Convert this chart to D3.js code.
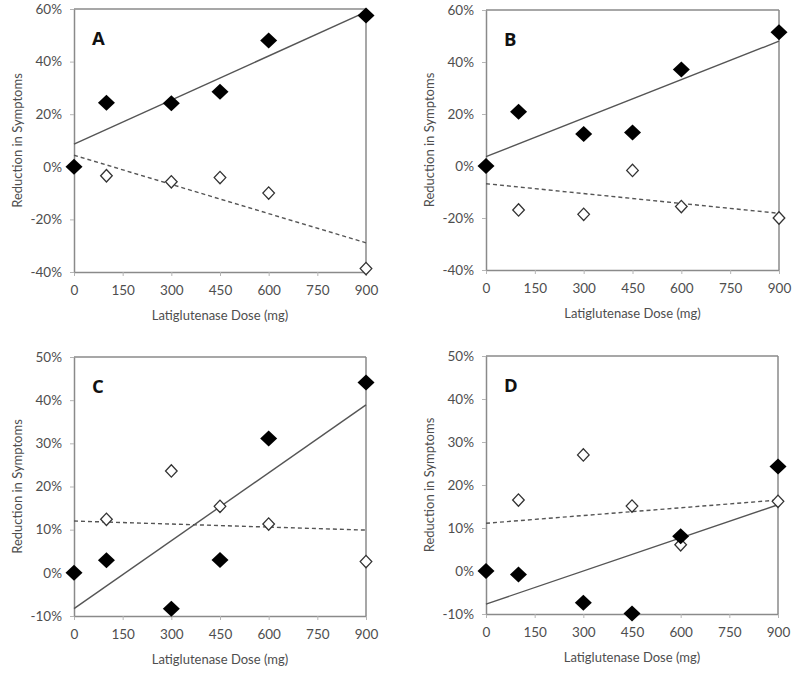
<!DOCTYPE html>
<html>
<head>
<meta charset="utf-8">
<script src="https://cdn.jsdelivr.net/npm/d3@7"></script>
<style>
  body { margin: 0; background: #fff; }
  svg { display: block; }
</style>
</head>
<body>
<svg id="chart" width="800" height="676"></svg>
<script>
// ---- data ----
const xTicks = [0, 150, 300, 450, 600, 750, 900];
const yTicksAB = [-40, -20, 0, 20, 40, 60];
const yTicksCD = [-10, 0, 10, 20, 30, 40, 50];
const filledDoses = [0, 100, 300, 450, 600, 900];
const openDoses = [100, 300, 450, 600, 900];
const trendDoses = [0, 900];

const filledA = [0, 24.4, 24.2, 28.5, 48.0, 57.5];
const openA = [-3.4, -5.7, -4.1, -10.0, -38.7];
const solidA = [8.6, 58.9];
const dashedA = [4.4, -28.9];

const filledB = [0, 20.9, 12.3, 12.9, 37.1, 51.4];
const openB = [-16.9, -18.6, -1.7, -15.6, -20.0];
const solidB = [3.6, 48.0];
const dashedB = [-6.8, -18.2];

const filledC = [0, 2.9, -8.3, 3.0, 31.1, 44.1];
const openC = [12.4, 23.6, 15.4, 11.3, 2.6];
const solidC = [-8.3, 38.9];
const dashedC = [12.0, 9.9];

const filledD = [0, -0.8, -7.4, -9.9, 8.1, 24.3];
const openD = [16.5, 27.0, 15.1, 6.1, 16.2];
const solidD = [-7.7, 15.4];
const dashedD = [11.1, 16.5];

const panelLabels = ["A", "B", "C", "D"];
const xTitle = "Latiglutenase Dose (mg)";
const yTitle = "Reduction in Symptoms";

// ---- layout ----
const panels = [
  { label: panelLabels[0], filled: filledA, open: openA, solid: solidA, dashed: dashedA, yTicks: yTicksAB, box: { l: 74, r: 366, t: 9, b: 272 } },
  { label: panelLabels[1], filled: filledB, open: openB, solid: solidB, dashed: dashedB, yTicks: yTicksAB, box: { l: 486, r: 779, t: 10, b: 270 } },
  { label: panelLabels[2], filled: filledC, open: openC, solid: solidC, dashed: dashedC, yTicks: yTicksCD, box: { l: 74, r: 366, t: 357, b: 616 } },
  { label: panelLabels[3], filled: filledD, open: openD, solid: solidD, dashed: dashedD, yTicks: yTicksCD, box: { l: 486, r: 778, t: 356, b: 614 } }
];

const svg = d3.select("#chart");
const font = "Lato, 'Open Sans', 'Liberation Sans', sans-serif";
const frameColor = "#8a8a8a";
const textColor = "#4e4e4e";

panels.forEach(p => {
  const b = p.box;
  const x = d3.scaleLinear().domain([0, 900]).range([b.l, b.r]);
  const y = d3.scaleLinear().domain([p.yTicks[0], p.yTicks[p.yTicks.length - 1]]).range([b.b, b.t]);
  const g = svg.append("g");

  // frame (top/right)
  g.append("line").attr("x1", b.l).attr("x2", b.r).attr("y1", b.t).attr("y2", b.t)
    .attr("stroke", frameColor).attr("stroke-width", 1.5);
  g.append("line").attr("x1", b.r).attr("x2", b.r).attr("y1", b.t).attr("y2", b.b)
    .attr("stroke", frameColor).attr("stroke-width", 1.5);

  // axes
  const xa = g.append("g").attr("transform", `translate(0,${b.b})`)
    .call(d3.axisBottom(x).tickValues(xTicks).tickSize(4).tickSizeOuter(0).tickPadding(9));
  const ya = g.append("g").attr("transform", `translate(${b.l},0)`)
    .call(d3.axisLeft(y).tickValues(p.yTicks).tickSize(4).tickSizeOuter(0).tickPadding(8)
      .tickFormat(d => d + "%"));
  [xa, ya].forEach(a => {
    a.select(".domain").attr("stroke", frameColor).attr("stroke-width", 1.5);
    a.selectAll(".tick line").attr("stroke", "#b5b5b5").attr("stroke-width", 1);
    a.selectAll(".tick text").attr("fill", textColor).attr("font-size", 13.5)
      .attr("font-family", font);
  });

  // titles
  g.append("text").attr("x", (b.l + b.r) / 2).attr("y", b.b + 48)
    .attr("text-anchor", "middle").attr("font-family", font).attr("font-size", 13)
    .attr("fill", textColor).text(xTitle);
  g.append("text")
    .attr("transform", `translate(${b.l - 52},${(b.t + b.b) / 2}) rotate(-90)`)
    .attr("text-anchor", "middle").attr("font-family", font).attr("font-size", 13)
    .attr("fill", textColor).text(yTitle);

  // panel letter
  g.append("text").attr("x", b.l + 18).attr("y", b.t + 36)
    .attr("font-family", "'Open Sans', Lato, sans-serif").attr("font-weight", "bold")
    .attr("font-size", 18.5).attr("fill", "#111").text(p.label);

  // trend lines
  const line = d3.line().x(d => x(d[0])).y(d => y(d[1]));
  g.append("path").attr("d", line(trendDoses.map((d, i) => [d, p.dashed[i]])))
    .attr("fill", "none").attr("stroke", "#555").attr("stroke-width", 1.4)
    .attr("stroke-dasharray", "4,3");
  g.append("path").attr("d", line(trendDoses.map((d, i) => [d, p.solid[i]])))
    .attr("fill", "none").attr("stroke", "#555").attr("stroke-width", 1.4);

  // open diamonds
  const ow = 5.8, oh = 6.2;
  g.selectAll(".open").data(openDoses.map((d, i) => [d, p.open[i]])).enter()
    .append("path")
    .attr("d", `M0,${-oh}L${ow},0L0,${oh}L${-ow},0Z`)
    .attr("transform", d => `translate(${x(d[0])},${y(d[1])})`)
    .attr("fill", "#fff").attr("stroke", "#333").attr("stroke-width", 1.3);

  // filled diamonds
  const fw = 8.5, fh = 8;
  g.selectAll(".filled").data(filledDoses.map((d, i) => [d, p.filled[i]])).enter()
    .append("path")
    .attr("d", `M0,${-fh}L${fw},0L0,${fh}L${-fw},0Z`)
    .attr("transform", d => `translate(${x(d[0])},${y(d[1])})`)
    .attr("fill", "#000");
});
</script>
</body>
</html>
